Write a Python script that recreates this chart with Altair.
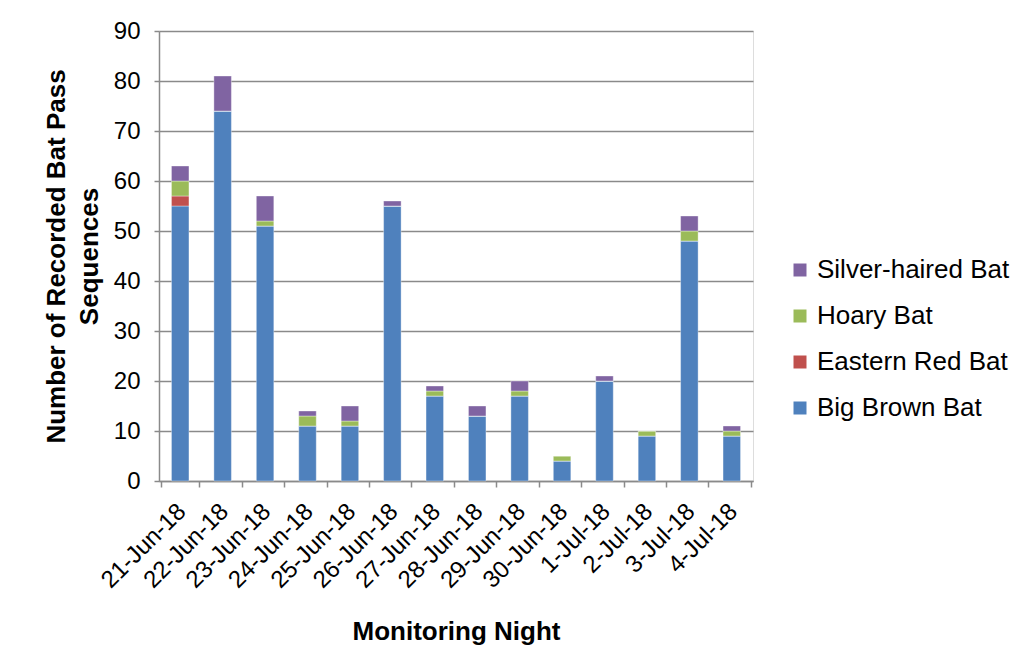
import altair as alt
import pandas as pd

nights = ["21-Jun-18", "22-Jun-18", "23-Jun-18", "24-Jun-18", "25-Jun-18", "26-Jun-18",
          "27-Jun-18", "28-Jun-18", "29-Jun-18", "30-Jun-18", "1-Jul-18", "2-Jul-18",
          "3-Jul-18", "4-Jul-18"]
big_brown = [55, 74, 51, 11, 11, 55, 17, 13, 17, 4, 20, 9, 48, 9]
eastern_red = [2, 0, 0, 0, 0, 0, 0, 0, 0, 0, 0, 0, 0, 0]
hoary = [3, 0, 1, 2, 1, 0, 1, 0, 1, 1, 0, 1, 2, 1]
silver_haired = [3, 7, 5, 1, 3, 1, 1, 2, 2, 0, 1, 0, 3, 1]

species = ["Big Brown Bat", "Eastern Red Bat", "Hoary Bat", "Silver-haired Bat"]
colors = ["#4F81BD", "#C0504D", "#9BBB59", "#8064A2"]

rows = []
for i, n in enumerate(nights):
    for k, (sp, vals) in enumerate(zip(species, [big_brown, eastern_red, hoary, silver_haired])):
        rows.append({"night": n, "species": sp, "count": vals[i], "order": k})
df = pd.DataFrame(rows)

FONT = "Liberation Sans"
GRAY = "#8a8a8a"

chart = alt.Chart(df).mark_bar(size=17.5, stroke="white", strokeOpacity=0.6, strokeWidth=0.6).encode(
    x=alt.X("night:N", sort=nights,
            axis=alt.Axis(title="Monitoring Night", labelAngle=-45, labelFontSize=24,
                          labelFont=FONT, labelColor="black", titleFont=FONT,
                          titleFontSize=26, titleFontWeight="bold", titleColor="black",
                          titlePadding=26, tickBand="extent", tickSize=6, tickColor=GRAY,
                          tickWidth=1.5, domainColor=GRAY, domainWidth=1.5,
                          labelPadding=12, labelOffset=-7, grid=False)),
    y=alt.Y("count:Q", stack="zero",
            scale=alt.Scale(domain=[0, 90], nice=False),
            axis=alt.Axis(title=["Number of Recorded Bat Pass", "Sequences"],
                          values=list(range(0, 91, 10)), labelFontSize=24, labelFont=FONT,
                          labelColor="black", titleFont=FONT, titleFontSize=26,
                          titleFontWeight="bold", titleColor="black", titlePadding=11,
                          titleLineHeight=33,
                          tickSize=5, tickColor=GRAY, tickWidth=1.5,
                          domainColor=GRAY, domainWidth=1.5, labelPadding=14,
                          gridColor=GRAY, gridWidth=1.5)),
    color=alt.Color("species:N",
                    scale=alt.Scale(domain=species, range=colors),
                    legend=alt.Legend(title=None, values=species[::-1], orient="none",
                                      legendX=628, legendY=226, labelFontSize=26,
                                      labelFont=FONT, labelColor="black", symbolType="square",
                                      symbolSize=169, symbolStrokeWidth=0, rowPadding=20,
                                      labelOffset=4, labelLimit=400)),
    order=alt.Order("order:Q"),
).properties(
    width=594, height=450,
    padding={"left": 151, "top": 23, "right": 262, "bottom": 170},
    autosize=alt.AutoSizeParams(type="none"),
).configure_view(stroke=None).configure(background="white")

chart.save("out.html", embed_options={"renderer": "svg", "actions": False})
